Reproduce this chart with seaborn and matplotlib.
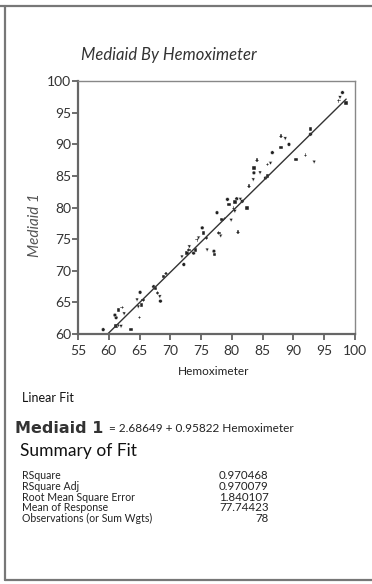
import matplotlib
matplotlib.use("Agg")
import matplotlib.pyplot as plt
import seaborn as sns
import pandas as pd
from matplotlib.lines import Line2D

# data
hemoximeter = [59.1, 61.2, 61.6, 62.0, 61.2, 61.6, 62.2, 62.5, 61.0, 63.6,
               65.0, 64.6, 65.1, 65.3, 65.6, 64.8, 67.3, 67.6, 67.9, 68.3,
               68.4, 68.9, 69.3, 71.9, 72.2, 72.7, 73.0, 73.1, 73.8, 74.1,
               74.4, 74.6, 75.2, 75.4, 75.9, 76.0, 77.1, 77.2, 77.9, 78.2,
               77.6, 78.4, 78.8, 79.9, 79.3, 79.5, 80.3, 80.5, 80.8, 80.5,
               81.0, 81.4, 81.7, 82.5, 82.8, 83.5, 83.6, 83.6, 84.1, 84.6,
               85.5, 85.8, 85.8, 86.3, 86.6, 88.0, 88.0, 88.7, 89.3, 90.4,
               92.0, 93.4, 92.8, 92.8, 97.4, 97.6, 98.0, 98.6]
mediaid = [60.7, 61.3, 61.4, 61.2, 62.6, 63.8, 64.2, 63.2, 63.0, 60.7,
           62.6, 65.4, 66.6, 64.6, 65.4, 64.3, 67.5, 67.2, 66.5, 65.9,
           65.2, 69.1, 69.6, 72.2, 71.0, 72.8, 73.3, 73.8, 72.8, 73.3,
           74.9, 75.2, 76.8, 76.0, 75.2, 73.3, 73.1, 72.6, 76.0, 75.5,
           79.2, 78.1, 78.3, 78.0, 81.3, 80.5, 79.9, 79.4, 81.4, 80.9,
           76.1, 81.3, 81.0, 79.9, 83.4, 84.4, 85.5, 86.3, 87.5, 85.5,
           84.7, 85.0, 86.8, 87.0, 88.7, 89.5, 91.3, 90.9, 90.0, 87.6,
           88.3, 87.2, 91.6, 92.4, 96.9, 97.4, 98.2, 96.6]

intercept = 2.68649
slope = 0.95822

x_ticks = [55, 60, 65, 70, 75, 80, 85, 90, 95, 100]
y_ticks = [60, 65, 70, 75, 80, 85, 90, 95, 100]

stat_names = ["RSquare", "RSquare Adj", "Root Mean Square Error",
              "Mean of Response", "Observations (or Sum Wgts)"]
stat_values = ["0.970468", "0.970079", "1.840107", "77.74423", "78"]

sns.set_theme(style="white")
plt.rcParams["font.family"] = ["Lato", "DejaVu Sans"]

df = pd.DataFrame({"Hemoximeter": hemoximeter, "Mediaid 1": mediaid})
df["kind"] = [i % 4 for i in range(len(df))]

fig = plt.figure(figsize=(3.72, 5.84), dpi=100)
ax = fig.add_axes([0.2097, 0.428, 0.744, 0.433])

sns.scatterplot(data=df, x="Hemoximeter", y="Mediaid 1", style="kind",
                markers=["o", "s", "P", "v"], color="#222222", s=7,
                linewidth=0.3, legend=False, ax=ax)

xs = pd.Series([min(hemoximeter), max(hemoximeter)])
ax.plot(xs, intercept + slope * xs, color="#333333", linewidth=1.0)

ax.set_xlim(55, 100)
ax.set_ylim(60, 100)
ax.set_xticks(x_ticks)
ax.set_yticks(y_ticks)
ax.tick_params(axis="both", direction="out", length=4, width=1.2,
               color="#555555", labelsize=10, labelcolor="#333333",
               bottom=True, left=True)
ax.tick_params(axis="x", pad=4)
ax.tick_params(axis="y", pad=1)
for s in ax.spines.values():
    s.set_color("#888888")
    s.set_linewidth(1.0)
for side in ["left", "bottom"]:
    ax.spines[side].set_linewidth(1.6)
    ax.spines[side].set_color("#666666")

ax.set_xlabel("Hemoximeter", fontsize=8.5, color="#222222")
ax.xaxis.set_label_coords(0.49, -0.125)
ax.set_ylabel("Mediaid 1", fontsize=11, color="#555555", style="italic")
ax.yaxis.set_label_coords(-0.13, 0.43)

fig.text(0.455, 0.905, "Mediaid By Hemoximeter", ha="center", va="center",
         fontsize=12, style="italic", color="#333333")

fig.text(0.059, 0.318, "Linear Fit", fontsize=9, color="#111111",
         va="center")
fig.text(0.04, 0.267, "Mediaid 1", fontsize=11.5, color="#333333",
         va="center", family=["DejaVu Sans"], weight="bold")
fig.text(0.292, 0.267, "= 2.68649 + 0.95822 Hemoximeter", fontsize=8.5,
         color="#222222", va="center")
fig.text(0.054, 0.228, "Summary of Fit", fontsize=12.5, color="#111111",
         va="center")

row_y = [0.1866, 0.1666, 0.1484, 0.1307, 0.1125]
for name, val, yy in zip(stat_names, stat_values, row_y):
    fig.text(0.059, yy, name, fontsize=7.6, color="#222222", va="center")
    fig.text(0.722, yy, val, fontsize=8.3, color="#222222", va="center",
             ha="right")

# outer frame: top, left, bottom edges only
for xd, yd in [([0.0, 1.0], [0.99, 0.99]),
               ([0.0134, 0.0134], [0.007, 0.99]),
               ([0.0134, 1.0], [0.007, 0.007])]:
    fig.add_artist(Line2D(xd, yd, transform=fig.transFigure,
                          color="#777777", linewidth=1.6))

fig.savefig("out.png", dpi=100)
